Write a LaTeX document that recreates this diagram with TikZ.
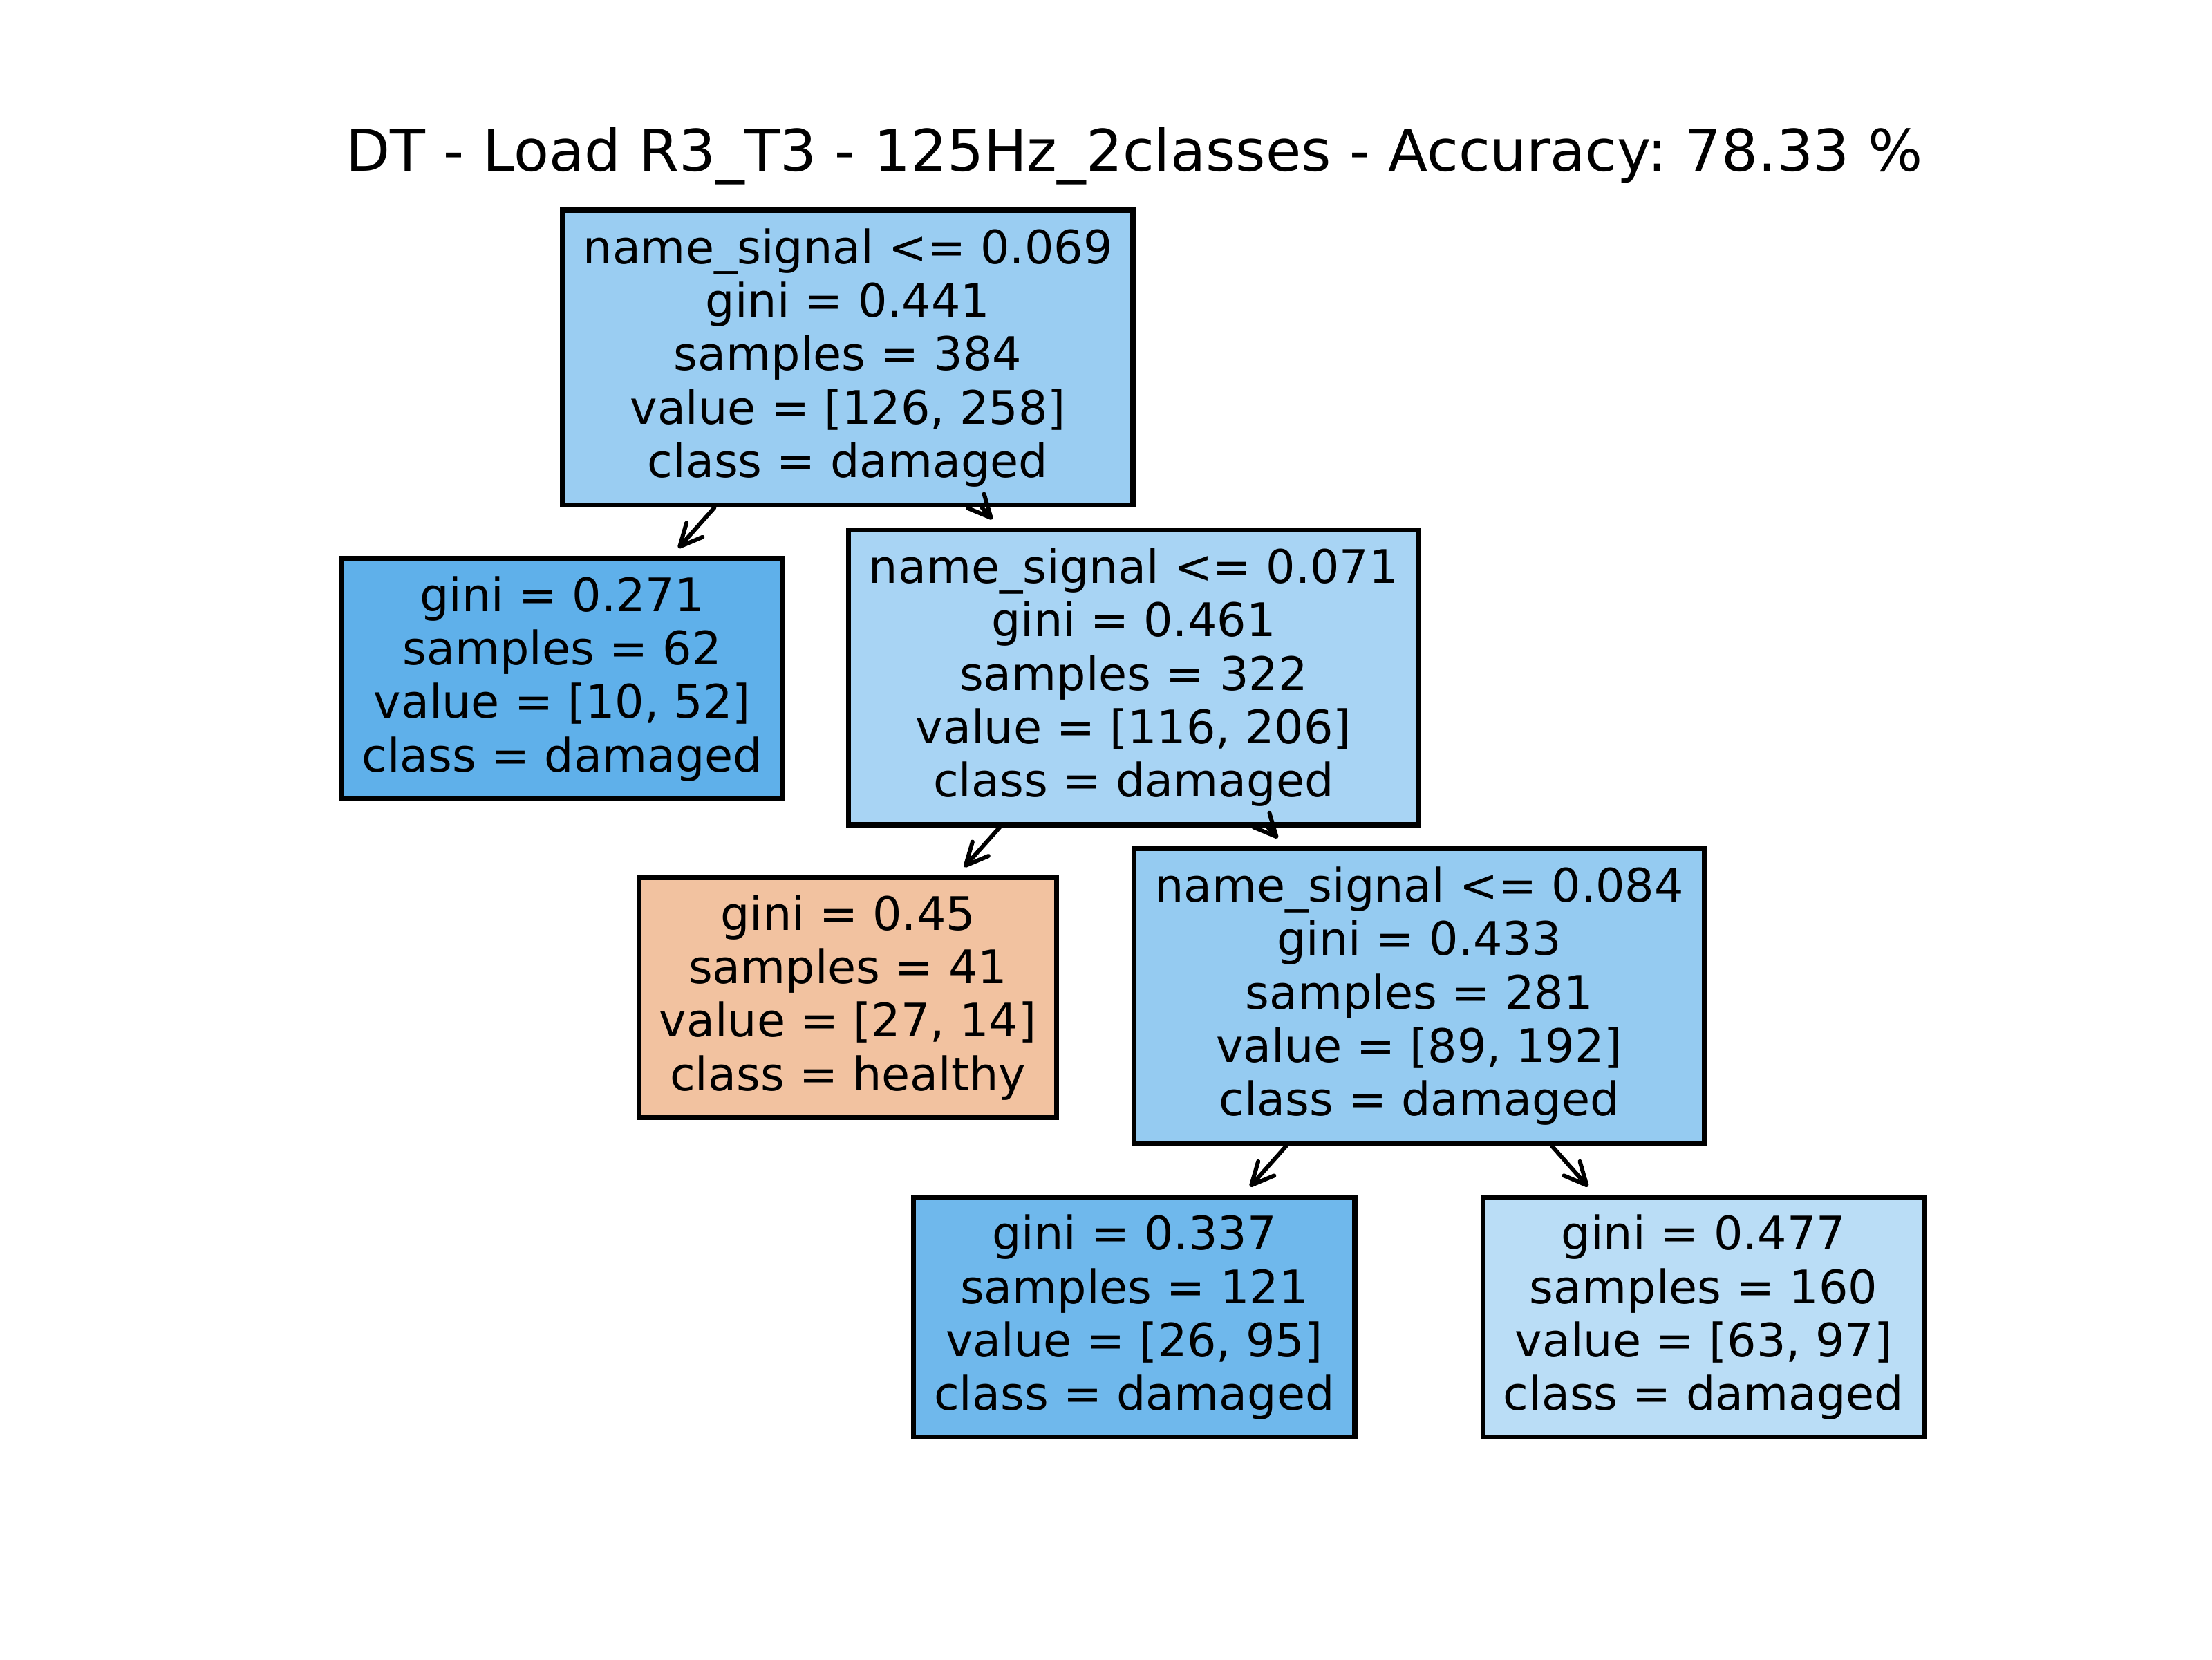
\documentclass[tikz,border=0pt]{standalone}
\usepackage{fontspec}
\setmainfont{DejaVu Sans}
\usepackage{tikz}
\usetikzlibrary{positioning,arrows.meta}
\definecolor{rootblue}{RGB}{154,205,242}
\definecolor{deepblue}{RGB}{95,176,234}
\definecolor{paleblue}{RGB}{168,212,244}
\definecolor{peach}{RGB}{242,194,160}
\definecolor{midblue}{RGB}{149,203,241}
\definecolor{strongblue}{RGB}{111,184,236}
\definecolor{lightblue}{RGB}{186,221,246}
\frenchspacing

\begin{document}
\begin{tikzpicture}[
        split/.style={draw, line width=1.05pt, align=center, inner xsep=4.2pt,
            minimum height=2.133cm, font=\fontsize{9.5}{11}\selectfont},
        leaf/.style={split, minimum height=1.735cm},
        link/.style={draw, line width=0.85pt, line cap=round,
            -{Straight Barb[length=4.6pt,width=4.4pt,round]}, shorten >=2.2pt}
    ]
        \useasboundingbox (0,0) rectangle (16,-12);

        % Title
        \node[anchor=base, font=\fontsize{11.85}{14}\selectfont] (title) at (8.205,-1.237)
            {DT - Load R3\_T3 - 125Hz\_2classes - Accuracy: 78.33 \%};

        % Tree nodes
        \node[split, fill=rootblue] (split1) at (6.133,-2.587)
            {name\_signal <= 0.069\\ gini = 0.441\\ samples = 384\\ value = [126, 258]\\ class = damaged};
        \node[leaf, fill=deepblue] (leaf1) at (4.066,-4.908)
            {gini = 0.271\\ samples = 62\\ value = [10, 52]\\ class = damaged};
        \node[split, fill=paleblue] (split2) at (8.199,-4.898)
            {name\_signal <= 0.071\\ gini = 0.461\\ samples = 322\\ value = [116, 206]\\ class = damaged};
        \node[leaf, fill=peach] (leaf2) at (6.133,-7.214)
            {gini = 0.45\\ samples = 41\\ value = [27, 14]\\ class = healthy};
        \node[split, fill=midblue] (split3) at (10.265,-7.204)
            {name\_signal <= 0.084\\ gini = 0.433\\ samples = 281\\ value = [89, 192]\\ class = damaged};
        \node[leaf, fill=strongblue] (leaf3) at (8.204,-9.526)
            {gini = 0.337\\ samples = 121\\ value = [26, 95]\\ class = damaged};
        \node[leaf, fill=lightblue, right=0.89cm of leaf3] (leaf4)
            {gini = 0.477\\ samples = 160\\ value = [63, 97]\\ class = damaged};

        % Edges
        \draw[link] (split1) -- (leaf1);
        \draw[link] (split1) -- (split2);
        \draw[link] (split2) -- (leaf2);
        \draw[link] (split2) -- (split3);
        \draw[link] (split3) -- (leaf3);
        \draw[link] (split3) -- (leaf4);
    \end{tikzpicture}
\end{document}
